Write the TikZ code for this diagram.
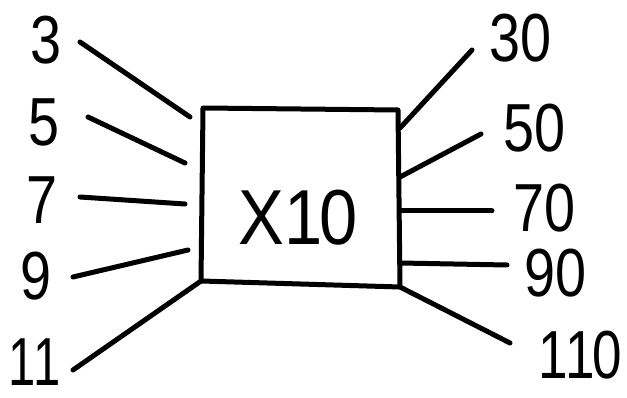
\documentclass[tikz,border=0pt]{standalone}
\usepackage{graphicx}
\usepackage{fontspec}
\setmainfont{Liberation Sans}
\newcommand{\narrowtxt}[2][0.82]{\scalebox{#1}[1]{#2}}
\newcommand{\one}{1\kern-0.05em}
\begin{document}
\begin{tikzpicture}[x=1pt,y=-1pt,
  wire/.style={line width=5pt,line cap=round,line join=round},
  lbl/.style={font=\fontsize{68}{68}\selectfont,inner sep=0pt,anchor=center},
  big/.style={font=\fontsize{78}{78}\selectfont,inner sep=0pt,anchor=center}]
\useasboundingbox (0,0) rectangle (627,398);
% box corners
\coordinate (tl) at (203,108);
\coordinate (tr) at (398,110);
\coordinate (br) at (400,287);
\coordinate (bl) at (201,281);
\draw[wire] (tl) -- (tr) -- (br) -- (bl) -- cycle;
\node[big] (mul) at (298,218) {\narrowtxt[0.88]{X\one 0}};
% left labels
\node[lbl] (n3) at (46,40) {\narrowtxt{3}};
\node[lbl] (n5) at (44,122) {\narrowtxt{5}};
\node[lbl] (n7) at (42,200) {\narrowtxt{7}};
\node[lbl] (n9) at (36,276) {\narrowtxt{9}};
\node[lbl] (n11) at (35,362) {\narrowtxt[0.72]{\one 1}};
% right labels
\node[lbl] (n30) at (521,38) {\narrowtxt{30}};
\node[lbl] (n50) at (535,128) {\narrowtxt{50}};
\node[lbl] (n70) at (545,208) {\narrowtxt{70}};
\node[lbl] (n90) at (556,273) {\narrowtxt{90}};
\node[lbl] (n110) at (580,355) {\narrowtxt[0.78]{\one\one 0}};
% connector ends
\coordinate (a3) at (80,42);   \coordinate (b3) at (190,117);
\coordinate (a5) at (88,117);  \coordinate (b5) at (185,163);
\coordinate (a7) at (80,197);  \coordinate (b7) at (185,204);
\coordinate (a9) at (73,277);  \coordinate (b9) at (188,250);
\coordinate (a11) at (73,370); \coordinate (b11) at (201,281);
\coordinate (a30) at (472,50); \coordinate (b30) at (400,128);
\coordinate (a50) at (481,134); \coordinate (b50) at (400,177);
\coordinate (a70) at (492,211); \coordinate (b70) at (400,211);
\coordinate (a90) at (507,265); \coordinate (b90) at (400,263);
\coordinate (a110) at (510,343); \coordinate (b110) at (400,287);
\foreach \k in {3,5,7,9,11,30,50,70,90,110}
  \draw[wire] (a\k) -- (b\k);
\end{tikzpicture}
\end{document}
